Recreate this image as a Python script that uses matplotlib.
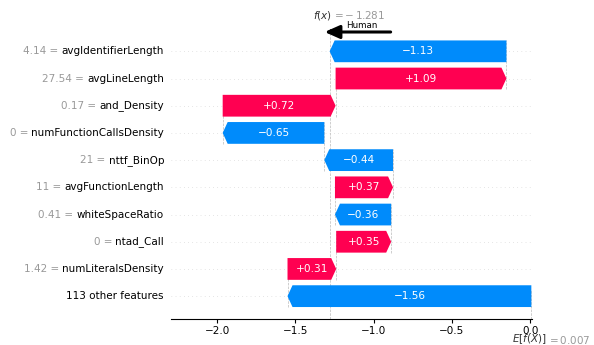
import matplotlib
matplotlib.use("Agg")
import matplotlib.pyplot as plt
from matplotlib.patches import Polygon
import numpy as np

# Features listed top to bottom
feature_names = ["avgIdentifierLength", "avgLineLength", "and_Density",
                 "numFunctionCallsDensity", "nttf_BinOp", "avgFunctionLength",
                 "whiteSpaceRatio", "ntad_Call", "numLiteralsDensity",
                 "113 other features"]
feature_values = ["4.14", "27.54", "0.17", "0", "21", "11", "0.41", "0", "1.42", None]
shap_values = [-1.129, 1.091, 0.721, -0.649, -0.439, 0.371, -0.359, 0.351, 0.311, -1.557]
base_value = 0.007
x_ticks = [-2.0, -1.5, -1.0, -0.5, 0.0]

RED = "#ff0051"
BLUE = "#008bfb"
FS_TICK = 7.5
FS_BAR = 7.6
FS_LBL = 7.5

W, H, DPI = 5.94, 3.45, 100
fig = plt.figure(figsize=(W, H), dpi=DPI)
ax_l, ax_r, ax_b, ax_t = 171, 531.5, 319, 32
ax = fig.add_axes([ax_l / 594, 1 - ax_b / 345, (ax_r - ax_l) / 594, (ax_b - ax_t) / 345])

n = len(feature_names)
ys = np.arange(n - 1, -1, -1)  # top feature at highest y
fx = base_value + sum(shap_values)

xmin, xmax = -2.294, 0.008
ax.set_xlim(xmin, xmax)
ax.set_ylim(-0.84, n - 1 + 0.71)

bar_h = 0.8
px_per_unit = (ax_r - ax_l) / (xmax - xmin)
head = 5 / px_per_unit

# walk from the model output back towards the base value
loc = fx
for i, (y, v) in enumerate(zip(ys, shap_values)):
    start = loc - v
    end = loc
    loc = start
    hl = min(head, abs(v))
    t, b = y + bar_h / 2, y - bar_h / 2
    if v >= 0:
        pts = [(start, b), (end - hl, b), (end, y), (end - hl, t), (start, t)]
        col = RED
    else:
        pts = [(start, b), (end + hl, b), (end, y), (end + hl, t), (start, t)]
        col = BLUE
    ax.add_patch(Polygon(pts, closed=True, facecolor=col, edgecolor="none",
                         zorder=2, clip_on=False))
    txt = f"{v:+.2f}".replace("-", "\u2212")
    ax.text((start + end) / 2, y, txt, ha="center", va="center", color="white",
            fontsize=FS_BAR, zorder=3)
    if i < n - 1:
        ax.plot([start, start], [y - 1 - 0.4, y + 0.4], color="#bbbbbb",
                linestyle="--", linewidth=0.5, zorder=-1)

# row guides
for y in ys:
    ax.axhline(y, color="#cccccc", lw=0.5, dashes=(1, 5), zorder=-1)

ax.axvline(base_value, 0, 1 / n, color="#bbbbbb", linestyle="--", linewidth=0.5, zorder=-1)
ax.axvline(fx, 0, 1, color="#bbbbbb", linestyle="--", linewidth=0.5, zorder=-1)

# y labels: black feature name, grey "value =" to its left
ax.set_yticks([])
name_texts = []
for nm, y in zip(feature_names, ys):
    t = ax.annotate(nm, xy=(0, y), xycoords=("axes fraction", "data"),
                    xytext=(-7, 0), textcoords="offset pixels", ha="right",
                    va="center", fontsize=FS_TICK, color="black")
    name_texts.append(t)
fig.canvas.draw()
renderer = fig.canvas.get_renderer()
for fv, t, y in zip(feature_values, name_texts, ys):
    if fv is None:
        continue
    w = t.get_window_extent(renderer).width
    ax.annotate(f"{fv} = ", xy=(0, y), xycoords=("axes fraction", "data"),
                xytext=(-7 - w, 0), textcoords="offset pixels", ha="right",
                va="center", fontsize=FS_TICK, color="#999999")

ax.set_xticks(x_ticks)
ax.set_xticklabels([f"{t:.1f}".replace("-", "\u2212") for t in x_ticks], fontsize=FS_TICK)
ax.tick_params(axis="x", length=3, width=0.8, pad=2)

for s in ["top", "right", "left"]:
    ax.spines[s].set_visible(False)
ax.spines["bottom"].set_linewidth(0.8)

# model output label on top
ax.annotate("$f(x)$", xy=(fx, 1), xycoords=("data", "axes fraction"),
            xytext=(-17, 17), textcoords="offset pixels", ha="left", va="center",
            fontsize=FS_LBL, color="#333333")
ax.annotate(f"$ = -\\,{abs(fx):.3f}$", xy=(fx, 1), xycoords=("data", "axes fraction"),
            xytext=(2, 17), textcoords="offset pixels", ha="left", va="center",
            fontsize=FS_LBL, color="#999999")
ax.plot([fx, fx], [1, 1.014], transform=ax.get_xaxis_transform(), color="#333333",
        lw=0.8, clip_on=False, dashes=(1, 1))

# base value label under the axis
ax.annotate("$E[f(X)]$", xy=(base_value, 0), xycoords=("data", "axes fraction"),
            xytext=(-19, -20.5), textcoords="offset pixels", ha="left", va="center",
            fontsize=FS_LBL, color="#333333")
ax.annotate(f"$ = {base_value:.3f}$", xy=(base_value, 0), xycoords=("data", "axes fraction"),
            xytext=(16, -20.5), textcoords="offset pixels", ha="left", va="center",
            fontsize=FS_LBL, color="#999999")

# direction arrow
ax.annotate("", xy=(fx - 5 / px_per_unit, 1.0), xycoords=("data", "axes fraction"),
            xytext=(66, 0), textcoords="offset pixels",
            arrowprops=dict(arrowstyle="-|>,head_length=0.9,head_width=0.4",
                            color="black", lw=2.2, shrinkA=0, shrinkB=0))
ax.annotate("Human", xy=(fx, 1.0), xycoords=("data", "axes fraction"),
            xytext=(32, 6), textcoords="offset pixels", ha="center", va="center",
            fontsize=6.3)

fig.savefig("out.png", dpi=DPI)
